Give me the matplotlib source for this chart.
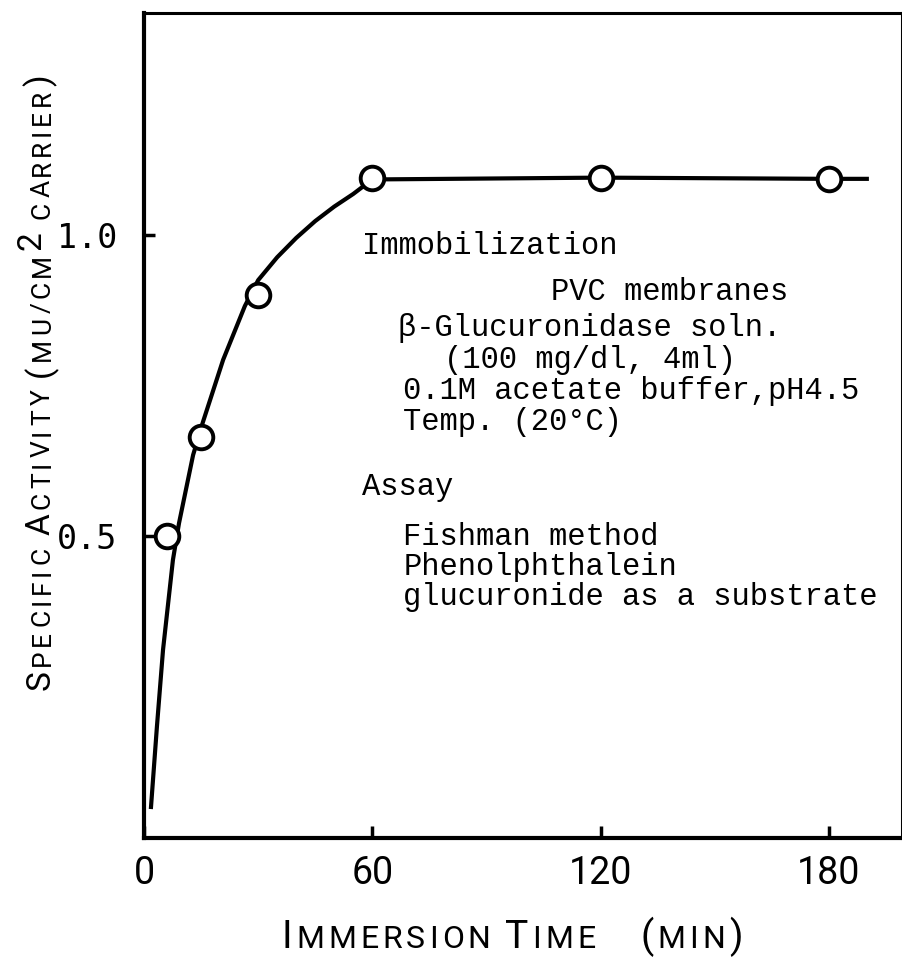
import matplotlib
matplotlib.use("Agg")
import matplotlib.pyplot as plt

W, H = 903, 957

# values
marker_time = [6, 15, 30, 60, 120, 180]
marker_activity = [0.50, 0.665, 0.90, 1.095, 1.095, 1.093]

# hand-drawn curve, points
curve_time = [1.8, 3.4, 5.0, 7.6, 9.2, 12.9, 15.5, 20.8, 26.5, 30.0, 35.0,
              40.0, 45.0, 50.0, 55.0, 60.0, 120, 180, 190.5]
curve_activity = [0.048, 0.185, 0.312, 0.461, 0.522, 0.635, 0.690, 0.793, 0.882,
                  0.925, 0.963, 0.995, 1.023, 1.047, 1.068, 1.092, 1.095, 1.093, 1.093]

x_ticks = [0, 60, 120, 180]
x_tick_labels = ["0", "60", "120", "180"]
y_ticks = [0.5, 1.0]
y_tick_labels = ["0.5", "1.0"]

notes = [
    ("Immobilization", 0.288, 0.718),
    ("PVC membranes", 0.537, 0.662),
    ("\u03b2-Glucuronidase soln.", 0.335, 0.618),
    ("(100 mg/dl, 4ml)", 0.396, 0.579),
    ("0.1M acetate buffer,pH4.5", 0.342, 0.542),
    ("Temp. (20\u00b0C)", 0.342, 0.504),
    ("Assay", 0.288, 0.425),
    ("Fishman method", 0.342, 0.365),
    ("Phenolphthalein", 0.342, 0.328),
    ("glucuronide as a substrate", 0.342, 0.292),
]

label_font = "Roboto"
mono = "Liberation Mono"


def small_caps(fig, pieces, x0, y0, rotation, family, tracking):
    # lay out characters one by one so big and small caps can be mixed
    renderer = fig.canvas.get_renderer()
    pos = 0.0
    for txt, size, rise in pieces:
        for ch in txt:
            if ch == " ":
                pos += size * 0.45
                continue
            probe = fig.text(0, 0, ch, fontsize=size, family=family)
            w = probe.get_window_extent(renderer).width
            probe.remove()
            if rotation == 0:
                px, py = x0 + pos, y0 + rise
            else:
                px, py = x0 - rise, y0 + pos
            fig.text(px / W, py / H, ch, fontsize=size, family=family,
                     rotation=rotation, rotation_mode="anchor",
                     ha="left", va="baseline")
            pos += w + tracking


fig = plt.figure(figsize=(W / 100, H / 100), dpi=100)
ax = fig.add_axes([144 / W, 1 - 838 / H, 758 / W, 825 / H])

ax.plot(curve_time, curve_activity, color="black", lw=3.0,
        solid_capstyle="butt", solid_joinstyle="round", zorder=2)
ax.plot(marker_time, marker_activity, "o", ms=17, mfc="white", mec="black",
        mew=2.8, zorder=3)

ax.set_xlim(0, 199.2)
ax.set_ylim(0, 1.368)

ax.set_xticks(x_ticks)
ax.set_xticklabels(x_tick_labels, family=label_font, fontsize=27)
ax.set_yticks(y_ticks)
ax.set_yticklabels(y_tick_labels, family="DejaVu Sans Mono", fontsize=24)
ax.tick_params(axis="x", direction="in", length=9, width=2.5, pad=12)
ax.tick_params(axis="y", direction="in", length=8, width=2.5, pad=19)
for side in ["left", "bottom"]:
    ax.spines[side].set_linewidth(3.0)
for side in ["top", "right"]:
    ax.spines[side].set_linewidth(2.2)

for text, fx, fy in notes:
    ax.text(fx, fy, text, transform=ax.transAxes, family=mono, fontsize=22,
            ha="left", va="center")

big, small = 28, 23
small_caps(fig, [("I", big, 0), ("MMERSION", small, 0), (" ", small, 0),
                 ("T", big, 0), ("IME", small, 0), ("    ", small, 0),
                 ("(", big, 0), ("MIN", small, 0), (")", big, 0)],
           282, H - 948, 0, label_font, 4)

ybig, ysmall = 24, 19
small_caps(fig, [("S", ybig, 0), ("PECIFIC", ysmall, 0), (" ", ysmall, 0),
                 ("A", ybig, 0), ("CTIVITY", ysmall, 0), (" ", ysmall, 0),
                 ("(", ybig, 0), ("MU/CM", ysmall, 0), ("2", ybig, 10),
                 (" ", ysmall, 0), ("CARRIER", ysmall, 0), (")", ybig, 0)],
           50, H - 690, 90, label_font, 4)

fig.savefig("out.png", dpi=100)
